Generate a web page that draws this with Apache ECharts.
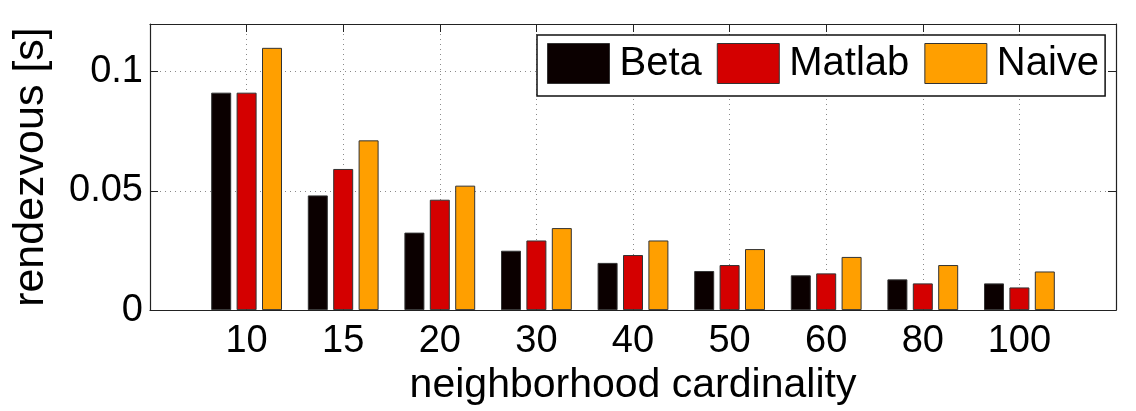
<!DOCTYPE html>
<html>
<head>
<meta charset="utf-8">
<script src="https://cdn.jsdelivr.net/npm/echarts@6/dist/echarts.min.js"></script>
<style>
  html, body { margin: 0; padding: 0; background: #fff; }
  #main { width: 1136px; height: 411px; }
</style>
</head>
<body>
<div id="main"></div>
<script>
// neighborhood cardinality categories
var categories = ['10', '15', '20', '30', '40', '50', '60', '80', '100'];
// rendezvous time [s]
var beta = [0.0912, 0.0481, 0.0325, 0.0249, 0.0198, 0.0164, 0.0146, 0.0129, 0.0112];
var matlab = [0.0912, 0.0592, 0.0463, 0.0292, 0.0231, 0.0189, 0.0154, 0.0112, 0.0095];
var naive = [0.1100, 0.0712, 0.0522, 0.0344, 0.0292, 0.0256, 0.0223, 0.0189, 0.0162];

// matlab axis runs from 0 to 10 with the groups at 1..9, so pad both ends
var xCats = [''].concat(categories, ['']);
function pad(arr) { return ['-'].concat(arr, ['-']); }

var font = "'Liberation Sans', Arial, Helvetica, sans-serif";
var axisColor = '#222';
var gridLine = { show: true, lineStyle: { color: '#8a8a8a', type: [1, 4], width: 1 } };

var myChart = echarts.init(document.getElementById('main'));

var barStyle = function (color) {
  return { color: color, borderColor: '#333', borderWidth: 1 };
};

// box axes (top / right) only carry inside ticks, like matlab's "box on"
var option = {
  animation: false,
  backgroundColor: '#fff',
  textStyle: { fontFamily: font },
  grid: { left: 150, right: 20, top: 24, bottom: 97 },
  legend: {
    left: 537,
    top: 35,
    padding: [8, 6, 12, 10],
    itemWidth: 62,
    itemHeight: 40,
    itemGap: 15,
    icon: 'rect',
    borderColor: '#111',
    borderWidth: 1.5,
    backgroundColor: '#fff',
    itemStyle: { borderColor: '#333', borderWidth: 1 },
    textStyle: { fontSize: 40, color: '#000', fontFamily: font, padding: [0, 0, 0, 5] },
    data: ['Beta', 'Matlab', 'Naive']
  },
  xAxis: [
    {
      type: 'category',
      data: xCats,
      boundaryGap: false,
      name: 'neighborhood cardinality',
      nameLocation: 'middle',
      nameGap: 52,
      nameTextStyle: { fontSize: 41, color: '#000', fontFamily: font },
      axisLine: { show: true, onZero: false, lineStyle: { color: axisColor, width: 1.2 } },
      axisTick: { show: true, inside: true, length: 8, interval: 0, lineStyle: { color: axisColor } },
      axisLabel: { interval: 0, fontSize: 38, color: '#000', margin: 12, fontFamily: font },
      splitLine: gridLine
    },
    {
      type: 'category',
      data: xCats,
      boundaryGap: false,
      position: 'top',
      axisLine: { show: true, onZero: false, lineStyle: { color: axisColor, width: 1.2 } },
      axisTick: { show: true, inside: true, length: 8, interval: 0, lineStyle: { color: axisColor } },
      axisLabel: { show: false },
      splitLine: { show: false }
    }
  ],
  yAxis: [
    {
      type: 'value',
      min: 0,
      max: 0.12,
      interval: 0.05,
      name: 'rendezvous [s]',
      nameLocation: 'middle',
      nameGap: 97,
      nameTextStyle: { fontSize: 43, color: '#000', fontFamily: font },
      axisLine: { show: true, onZero: false, lineStyle: { color: axisColor, width: 1.2 } },
      axisTick: { show: true, inside: true, length: 8, lineStyle: { color: axisColor } },
      axisLabel: { fontSize: 38, color: '#000', margin: 7, showMaxLabel: false, fontFamily: font },
      splitLine: gridLine
    },
    {
      type: 'value',
      min: 0,
      max: 0.12,
      interval: 0.05,
      position: 'right',
      axisLine: { show: true, onZero: false, lineStyle: { color: axisColor, width: 1.2 } },
      axisTick: { show: true, inside: true, length: 8, lineStyle: { color: axisColor } },
      axisLabel: { show: false },
      splitLine: { show: false }
    }
  ],
  series: [
    { name: 'Beta', type: 'bar', data: pad(beta), barWidth: 20, barGap: '27%', itemStyle: barStyle('#0b0000') },
    { name: 'Matlab', type: 'bar', data: pad(matlab), barWidth: 20, barGap: '27%', itemStyle: barStyle('#d40000') },
    { name: 'Naive', type: 'bar', data: pad(naive), barWidth: 20, barGap: '27%', itemStyle: barStyle('#ff9f00') }
  ]
};

myChart.setOption(option);
</script>
</body>
</html>
